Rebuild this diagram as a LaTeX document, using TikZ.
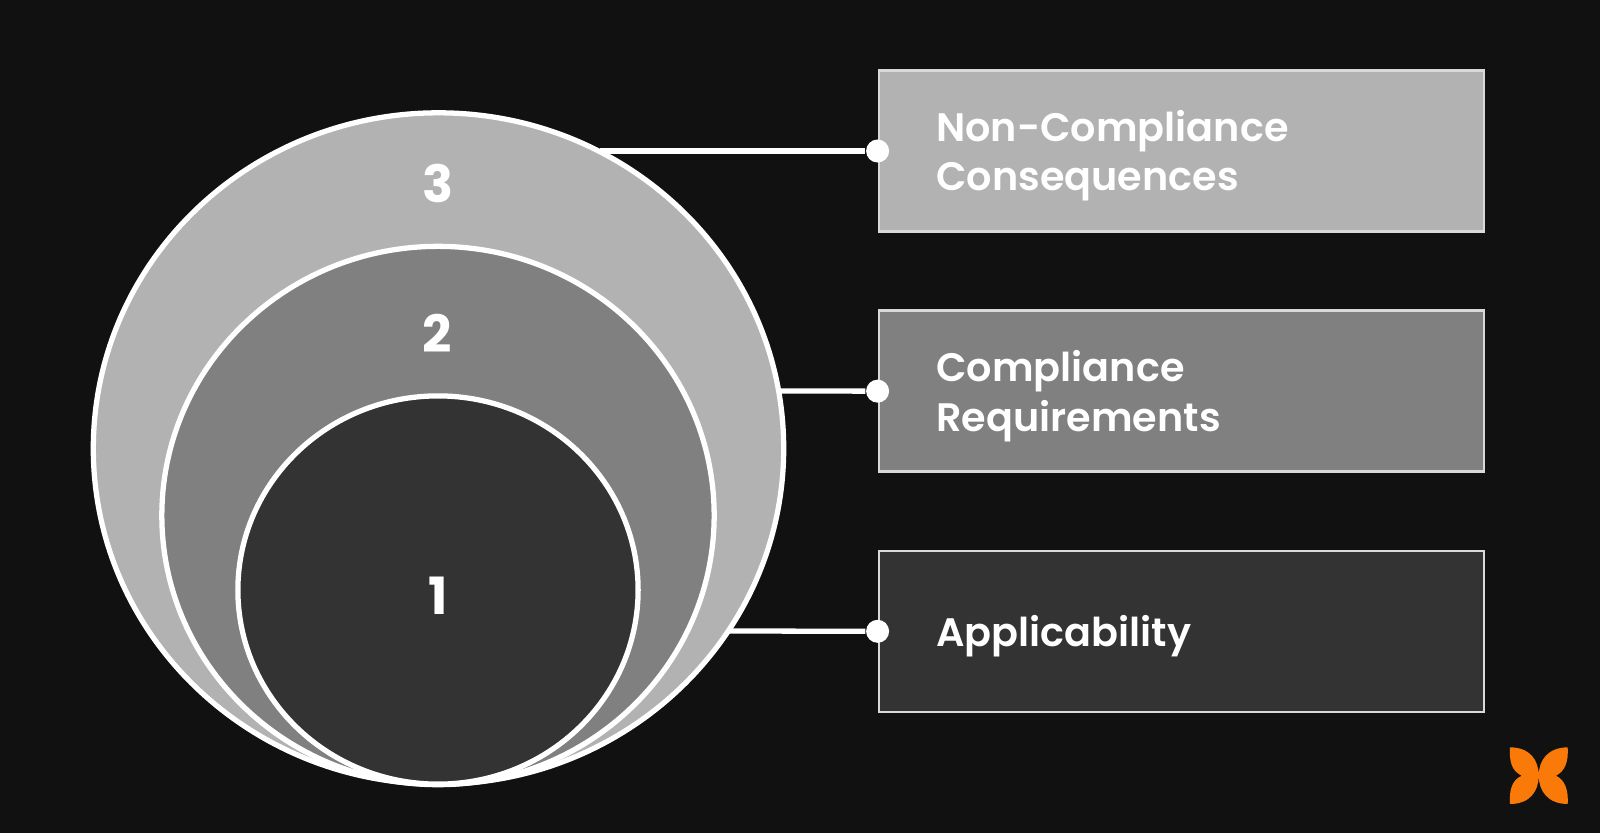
\documentclass[tikz,border=0pt]{standalone}
\usepackage{fontspec}
\setmainfont{Poppins}[UprightFont=* SemiBold,BoldFont=* Bold]
\usepackage{tikz}
\usetikzlibrary{shapes,positioning}
\definecolor{pagebg}{HTML}{111111}
\definecolor{shadea}{HTML}{333333}
\definecolor{shadeb}{HTML}{808080}
\definecolor{shadec}{HTML}{B2B2B2}
\definecolor{logoorange}{HTML}{F97A08}
\tikzstyle{ring} =
  [ellipse, draw=white, line width=1.5pt, inner sep=0pt]
\tikzstyle{panel} =
  [rectangle, draw=white!85!black, line width=0.7pt,
   minimum width=6.05cm, minimum height=1.61cm]
\tikzstyle{caption} =
  [text=white, inner sep=0pt, anchor=west, align=left, xshift=0.58cm, yshift=-0.05cm,
   font=\fontsize{11.3}{14}\selectfont]
\tikzstyle{digit} = [text=white, font=\fontsize{14.6}{15}\selectfont\bfseries]
\tikzstyle{link} = [draw=white, line width=1.5pt]
\tikzstyle{dot} = [circle, fill=white, inner sep=0pt, minimum size=0.23cm]

\begin{document}
\begin{tikzpicture}[x=0.01cm, y=-0.01cm, node distance = 2.4cm]
  \useasboundingbox (0,0) rectangle (1600,833);
  \fill [pagebg] (0,0) rectangle (1600,833);

  \coordinate (t3) at (600,151);
  \coordinate (t2) at (778,391);
  \coordinate (t1) at (728,631);

  \node [panel, fill=shadec] (p3) at (1181.5,151) {};
  \node [panel, fill=shadeb, below of=p3] (p2) {};
  \node [panel, fill=shadea, below of=p2] (p1) {};

  \node [caption] (l3) at (p3.west) {Non-Compliance\\Consequences};
  \node [caption] (l2) at (p2.west) {Compliance\\Requirements};
  \node [caption] (l1) at (p1.west) {Applicability};

  \node [dot] (d3) at (p3.west) {};
  \node [dot] (d2) at (p2.west) {};
  \node [dot] (d1) at (p1.west) {};

  \draw [link] (t3) to (d3);
  \draw [link] (t2) to (d2);
  \draw [link] (t1) to (d1);

  \node [ring, fill=shadec, minimum width=6.9cm, minimum height=6.71cm] (c3) at (438.5,448.5) {};
  \node [ring, fill=shadeb, minimum width=5.52cm, minimum height=5.38cm] (c2) at (438,515.5) {};
  \node [ring, fill=shadea, minimum width=4cm, minimum height=3.88cm] (c1) at (438,590) {};

  \node [digit] (n3) at (438.5,183) {3};
  \node [digit] (n2) at (437.5,333) {2};
  \node [digit] (n1) at (438,596) {1};

  % logo
  \fill [logoorange]
    (1510,747.3) .. controls (1530,747.5) and (1538.7,760) .. (1538.7,775.7)
    .. controls (1538.7,760) and (1548,747.5) .. (1567.7,747.3)
    .. controls (1568.5,762) and (1565,771) .. (1556,775.7)
    .. controls (1565,780) and (1568.5,790) .. (1567.7,804)
    .. controls (1548,804) and (1538.7,791) .. (1538.7,775.7)
    .. controls (1538.7,791) and (1530,804) .. (1510,804)
    .. controls (1509,790) and (1512,780) .. (1521.7,775.7)
    .. controls (1512,771) and (1509,762) .. (1510,747.3) -- cycle;
\end{tikzpicture}
\end{document}
